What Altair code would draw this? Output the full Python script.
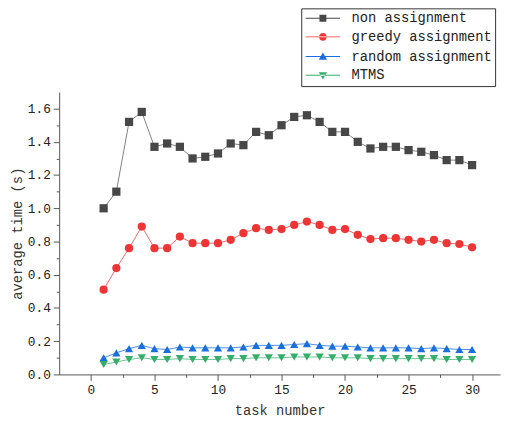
import altair as alt
import pandas as pd

tasks = list(range(1, 31))
series_names = ["non assignment", "greedy assignment", "random assignment", "MTMS"]
non_assignment = [1.00, 1.10, 1.52, 1.58, 1.37, 1.39, 1.37, 1.30, 1.31, 1.33,
                  1.39, 1.38, 1.46, 1.44, 1.50, 1.55, 1.56, 1.52, 1.46, 1.46,
                  1.40, 1.36, 1.37, 1.37, 1.35, 1.34, 1.32, 1.29, 1.29, 1.26]
greedy_assignment = [0.51, 0.64, 0.76, 0.89, 0.76, 0.76, 0.83, 0.79, 0.79, 0.79,
                     0.81, 0.85, 0.88, 0.87, 0.875, 0.90, 0.92, 0.90, 0.87, 0.875,
                     0.84, 0.815, 0.82, 0.82, 0.81, 0.80, 0.81, 0.79, 0.785, 0.765]
random_assignment = [0.10, 0.13, 0.155, 0.175, 0.155, 0.15, 0.165, 0.16, 0.16, 0.16,
                     0.16, 0.165, 0.175, 0.175, 0.175, 0.18, 0.185, 0.175, 0.17, 0.17,
                     0.165, 0.16, 0.16, 0.16, 0.16, 0.155, 0.16, 0.155, 0.15, 0.15]
mtms = [0.06, 0.075, 0.09, 0.10, 0.09, 0.09, 0.095, 0.09, 0.09, 0.09,
        0.095, 0.095, 0.10, 0.10, 0.10, 0.105, 0.105, 0.105, 0.10, 0.10,
        0.10, 0.095, 0.095, 0.095, 0.095, 0.095, 0.095, 0.09, 0.09, 0.09]

marker_colors = ["#474747", "#ee3535", "#1a6fdf", "#37ad6b"]
line_colors = ["#808080", "#f26a6a", "#4a8fe8", "#6cc592"]
shapes = ["square", "circle", "triangle-up", "triangle-down"]
bar = "M-5,-0.14H5V0.14H-5Z"
legend_paths = [
    bar + "M-1,-1H1V1H-1Z",
    bar + "M-1.1,0A1.1,1.1 0 1,0 1.1,0A1.1,1.1 0 1,0 -1.1,0Z",
    bar + "M0,-1.2L1.2,0.9H-1.2Z",
    bar + "M0,1.2L1.2,-0.9H-1.2Z",
]

rows = []
for name, vals in zip(series_names, [non_assignment, greedy_assignment, random_assignment, mtms]):
    for t, v in zip(tasks, vals):
        rows.append({"task": t, "time": v, "series": name})
df = pd.DataFrame(rows)

FONT = "Liberation Mono"

x_enc = alt.X(
    "task:Q",
    scale=alt.Scale(domain=[-2.5, 32.2], nice=False, zero=False),
    axis=alt.Axis(
        title="task number",
        values=[0, 2.5, 5, 7.5, 10, 12.5, 15, 17.5, 20, 22.5, 25, 27.5, 30],
        labelExpr="datum.value % 5 === 0 ? datum.value : ''",
        tickSize={"condition": {"test": "datum.value % 5 === 0", "value": 6}, "value": 3},
        grid=False,
        domainColor="#555555",
        tickColor="#555555",
        labelFont=FONT, labelFontSize=13, labelColor="#222222",
        titleFont=FONT, titleFontSize=14, titleFontWeight="normal", titleColor="#333333",
        labelPadding=3, titlePadding=8,
    ),
)
y_enc = alt.Y(
    "time:Q",
    scale=alt.Scale(domain=[0, 1.7], nice=False),
    axis=alt.Axis(
        title="average time (s)",
        values=[round(i * 0.1, 1) for i in range(0, 17)],
        labelExpr="round(datum.value * 10) % 2 === 0 ? format(datum.value, '.1f') : ''",
        tickSize={"condition": {"test": "round(datum.value * 10) % 2 === 0", "value": 6}, "value": 3},
        grid=False,
        domainColor="#555555",
        tickColor="#555555",
        labelFont=FONT, labelFontSize=13, labelColor="#222222",
        titleFont=FONT, titleFontSize=14, titleFontWeight="normal", titleColor="#333333",
        labelPadding=3, titlePadding=3,
    ),
)

base = alt.Chart(df)

lines = base.mark_line(strokeWidth=1).encode(
    x=x_enc, y=y_enc,
    color=alt.Color("series:N", scale=alt.Scale(domain=series_names, range=line_colors), legend=None),
    detail="series:N",
)

points = base.mark_point(filled=True, size=70, opacity=1).encode(
    x=x_enc, y=y_enc,
    color=alt.Color("series:N", scale=alt.Scale(domain=series_names, range=marker_colors), legend=None),
    shape=alt.Shape("series:N", scale=alt.Scale(domain=series_names, range=shapes), legend=None),
)

legend_props = dict(
    title=None, orient="none", legendX=246, legendY=-85,
    strokeColor="#333333", fillColor="white", padding=3,
    symbolSize=49, symbolOffset=12, symbolOpacity=1,
    labelFont=FONT, labelFontSize=14, labelColor="#222222",
    labelOffset=22, rowPadding=5, labelLimit=300,
)

legend_layer = base.mark_point(filled=True, size=49, opacity=0).encode(
    x=x_enc, y=y_enc,
    color=alt.Color(
        "series:N",
        scale=alt.Scale(domain=series_names, range=marker_colors),
        legend=alt.Legend(**legend_props),
    ),
    shape=alt.Shape(
        "series:N",
        scale=alt.Scale(domain=series_names, range=legend_paths),
        legend=alt.Legend(**legend_props),
    ),
)

chart = (
    alt.layer(lines, points, legend_layer)
    .resolve_scale(color="independent", shape="independent")
    .properties(
        width=448, height=287,
        autosize=alt.AutoSizeParams(type="none"),
        padding={"left": 52, "top": 82, "right": 2, "bottom": 45},
        background="white",
    )
    .configure_view(stroke=None)
)

chart.save("out.html", embed_options={"renderer": "svg", "actions": False})
